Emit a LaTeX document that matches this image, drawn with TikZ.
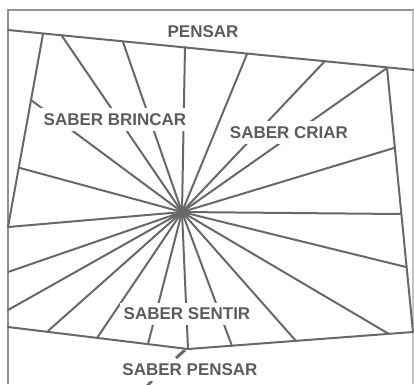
\documentclass[tikz,border=0pt]{standalone}
\usepackage{fontspec}
\setmainfont{Liberation Sans}
\definecolor{linegray}{RGB}{104,104,104}
\definecolor{framegray}{RGB}{145,145,145}
\definecolor{lightframe}{RGB}{195,195,195}
\definecolor{textgray}{RGB}{92,92,92}
\begin{document}
\begin{tikzpicture}[x=1pt,y=-1pt,
  web/.style={draw=linegray, line width=2pt, line cap=round, line join=round},
  frame/.style={draw=framegray, line width=2pt},
  lbl/.style={fill=white, inner xsep=4pt, inner ysep=5pt, text=textgray,
    font=\fontsize{17}{20}\selectfont\bfseries}]
\useasboundingbox (0,0) rectangle (414,384);
% outer frame
\coordinate (OTL) at (8,10);
\coordinate (OTR) at (414,10);
\coordinate (OBL) at (8,384);
\coordinate (ORT) at (413,10);
\coordinate (ORB) at (413,384);
\draw[frame] (OBL) -- (OTL) -- (OTR);
\draw[draw=lightframe, line width=1.5pt] (ORT) -- (ORB);
% web outline
\coordinate (TA) at (8,30);
\coordinate (TB) at (414,70);
\coordinate (TL) at (43,34);
\coordinate (LB) at (8,227);
\coordinate (TR) at (387,68);
\coordinate (BR) at (413,332);
\coordinate (BL) at (8,327);
\coordinate (BV) at (188,349);
\coordinate (C) at (182,212);
\draw[web] (TA) -- (TB);
\draw[web] (TL) -- (LB);
\draw[web] (TR) -- (BR);
\draw[web] (BL) -- (BV) -- (BR);
% radial end points
\coordinate (r1) at (62,36);
\coordinate (r2) at (123,42);
\coordinate (r3) at (185,47);
\coordinate (r4) at (247,54);
\coordinate (r5) at (325,61);
\coordinate (r6) at (387,68);
\coordinate (r7) at (394,148);
\coordinate (r8) at (401,214);
\coordinate (r9) at (406,267);
\coordinate (r10) at (389,334);
\coordinate (r11) at (296,341);
\coordinate (r12) at (232,346);
\coordinate (r13) at (188,349);
\coordinate (r14) at (148,344);
\coordinate (r15) at (97,338);
\coordinate (r16) at (48,331);
\coordinate (r17) at (8,310);
\coordinate (r18) at (8,272);
\coordinate (r19) at (8,227);
\coordinate (r20) at (20,168);
\coordinate (r21) at (31,100);
\foreach \p in {r1,r2,r3,r4,r5,r6,r7,r8,r9,r10,r11,r12,r13,r14,r15,r16,r17,r18,r19,r20,r21}
  \draw[web] (C) -- (\p);
% small marks below
\coordinate (m1) at (185,350);
\coordinate (m2) at (176,358);
\coordinate (m3) at (152,381);
\coordinate (m4) at (146,387);
\draw[draw=linegray, line width=3pt] (m1) -- (m2);
\draw[draw=linegray, line width=2.5pt] (m3) -- (m4);
% labels
\node[lbl] (pensar) at (203,32) {PENSAR};
\node[lbl] (brincar) at (115,119.5) {SABER BRINCAR};
\node[lbl] (criar) at (289,132.5) {SABER CRIAR};
\node[lbl] (sentir) at (187,314) {SABER SENTIR};
\node[lbl] (spensar) at (190,370) {SABER PENSAR};
\end{tikzpicture}
\end{document}
